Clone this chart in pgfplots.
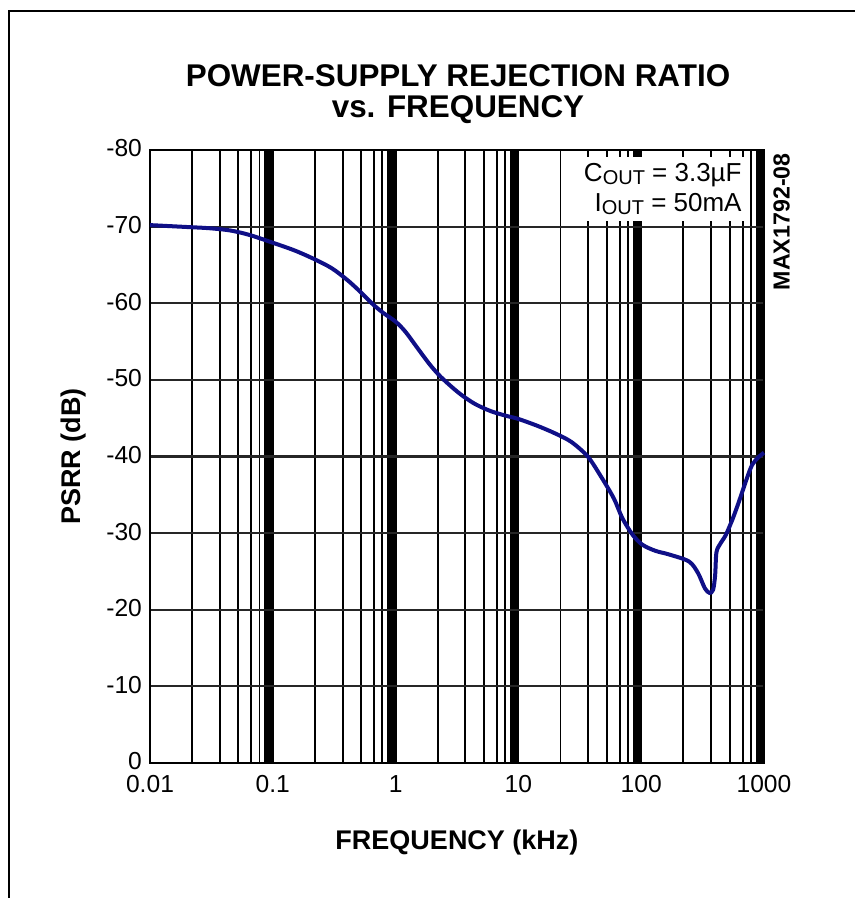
\documentclass[border=0pt]{standalone}
\usepackage{pgfplots}
\pgfplotsset{compat=1.18}
\usepackage{fontspec}
\setmainfont{Liberation Sans}
\definecolor{curve}{RGB}{15,15,135}
\begin{document}
\begin{tikzpicture}
\useasboundingbox (-75pt,-67.5pt) rectangle (352.5pt,381.5pt);
\begin{axis}[
  name=ax,
  at={(0,0)}, anchor=south west,
  scale only axis,
  width=307pt, height=306.5pt,
  xmode=log,
  xmin=0.01, xmax=1000,
  ymin=-80, ymax=0,
  y dir=reverse,
  xtick={0.01,0.1,1,10,100,1000},
  xticklabels={0.01,0.1,1,10,100,1000},
  minor xtick={0.022,0.037,0.0525,0.067,0.078,0.087,0.09,0.093,0.096,0.099,
               0.22,0.37,0.525,0.67,0.78,0.87,0.9,0.93,0.96,0.99,
               2.2,3.7,5.25,6.7,7.8,8.7,9,9.3,9.6,9.9,
               22,37,52.5,67,78,87,90,93,96,99,
               220,370,525,670,780,870,900,930,960,990},
  ytick={-80,-70,-60,-50,-40,-30,-20,-10,0},
  yticklabels={-80,-70,-60,-50,-40,-30,-20,-10,0},
  /pgf/number format/assume math mode=true,
  major tick length=0pt, minor tick length=0pt,
  xmajorgrids=true, xminorgrids=true, ymajorgrids=true,
  major x grid style={black, line width=1pt},
  minor x grid style={black, line width=0.95pt},
  major y grid style={black!85, line width=1.1pt},
  axis line style={black, line width=1.1pt},
  tick label style={font=\fontsize{12.3pt}{14pt}\selectfont},
  xticklabel style={yshift=-2.8pt},
  yticklabel style={xshift=-0.5pt, yshift=0.8pt},
  xlabel={FREQUENCY (kHz)},
  ylabel={PSRR (dB)},
  label style={font=\fontsize{13.5pt}{15pt}\selectfont\bfseries},
  xlabel style={at={(axis description cs:0.5,0)}, anchor=center, yshift=-40pt},
  ylabel style={at={(axis description cs:-0.1238,0.5)}, anchor=center},
  clip=false,
]
\addplot[curve, line width=2pt, smooth, tension=0.5] coordinates {
(0.01,-70.2) (0.02,-69.95) (0.03,-69.8) (0.045,-69.5) (0.065,-68.9)
(0.1,-67.9) (0.15,-66.9) (0.215,-65.8) (0.3,-64.6) (0.4,-63.1)
(0.5,-61.7) (0.66,-59.8) (0.8,-58.7) (1.0,-57.6) (1.2,-56.3)
(1.5,-54.2) (1.9,-52.0) (2.33,-50.4) (3.0,-48.8) (3.6,-47.8)
(4.5,-46.8) (6.0,-45.9) (8.0,-45.3) (10,-44.9) (14.3,-44.0)
(20,-43.0) (27,-41.9) (36.7,-40.0) (47,-37.4) (60,-34.5)
(70,-32.0) (85,-29.8) (102,-28.5) (130,-27.7) (170,-27.2)
(245,-26.3) (290,-24.8) (330,-22.8) (360,-22.2) (385,-22.6)
(400,-24.5) (410,-27.5) (440,-28.6) (490,-29.8) (560,-32.0)
(631,-34.3) (720,-37.0) (800,-38.9) (900,-39.9) (1000,-40.5)
};
\end{axis}
\draw[black, line width=1pt] (-70.25pt,-70pt) -- (-70.25pt,376pt) -- (360pt,376pt);
\node[anchor=base, inner sep=0pt, font=\fontsize{15.7pt}{15.7pt}\selectfont\bfseries] at (154pt,338pt) {POWER-SUPPLY REJECTION RATIO};
\node[anchor=base, inner sep=0pt, font=\fontsize{15.7pt}{15.7pt}\selectfont\bfseries] at (154pt,322.5pt) {vs. FREQUENCY};
\node[anchor=north east, fill=white, inner sep=3pt, align=right, font=\fontsize{13pt}{15pt}\selectfont] at (299pt,303pt)
  {C\raisebox{-1.6pt}{\fontsize{10pt}{10pt}\selectfont OUT} = 3.3µF\\I\raisebox{-1.6pt}{\fontsize{10pt}{10pt}\selectfont OUT} = 50mA};
\node[anchor=east, rotate=90, inner sep=0pt, font=\fontsize{11.6pt}{12pt}\selectfont\bfseries] at (315.75pt,305pt) {MAX1792-08};
\end{tikzpicture}
\end{document}
